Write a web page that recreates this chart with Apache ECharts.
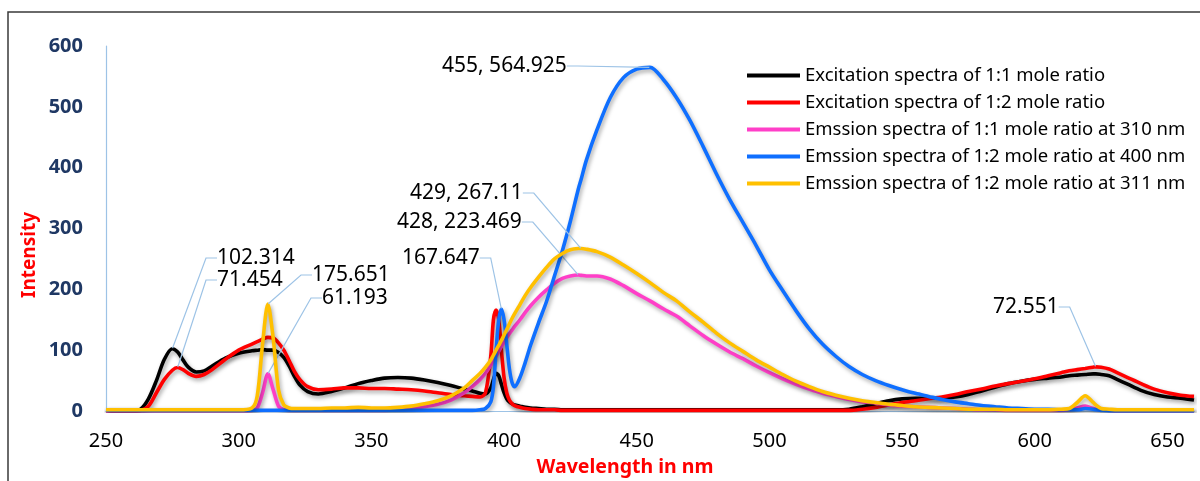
<!DOCTYPE html>
<html>
<head>
<meta charset="utf-8">
<script src="https://cdn.jsdelivr.net/npm/echarts@6/dist/echarts.min.js"></script>
<style>
  html, body { margin: 0; padding: 0; background: #fff; }
  #chart { width: 1200px; height: 481px; }
</style>
</head>
<body>
<div id="chart"></div>
<script>
// Wavelength grid (nm) shared by every spectrum
const wavelength = [250,255,260,263,266,269,272,275,277,279,281,284,287,290,295,300,305,307,309,311,313,315,317,319,321,323,326,330,335,340,345,350,355,360,365,370,375,380,385,388,391,393,395,396,397,398,399,400,401,402,403,404,406,408,410,413,416,419,422,425,428,429,431,435,440,445,450,455,460,465,470,475,480,485,490,495,500,505,510,515,520,525,530,535,540,545,550,555,560,565,570,575,580,585,590,595,600,605,610,613,616,619,622,623,625,628,631,635,640,645,650,655,660];

// Excitation spectrum, 1:1 mole ratio
const excitation11 = [1,1,1,3,20,50,85,102.314,97,84,72,64,66,74,87,95,99,100,101,100,100,96,88,74,57,43,32,28,32,38,45,50,54,55,54,51,47,42,36,33,29,28,38,52,62,58,44,30,20,15,12,10,8,6,5,4,3,3,2,2,2,2,2,2,2,2,2,2,2,2,2,2,2,2,2,2,2,2,2,2,2,2,3,7,12,17,20,21,21,21,23,27,33,39,45,49,52,54,56,58,59,60,61,61,60,58,52,44,34,27,23,21,18];

// Excitation spectrum, 1:2 mole ratio
const excitation12 = [0,0,0,1,8,30,52,67,71.454,68,62,57,60,68,85,100,110,114,118,121,120,112,100,83,65,52,40,35,36,38,38,37,37,36,35,33,30,27,25,24,23,30,90,150,166,150,100,55,30,18,12,9,6,4,3,2,2,2,1,1,1,1,1,1,1,1,1,1,1,1,1,1,1,1,1,1,1,1,1,1,1,1,1,3,6,10,14,17,20,23,27,32,36,41,45,49,53,58,63,66,68,70,72,72.551,72,69,63,55,45,36,30,26,24];

// Emission spectrum, 1:1 mole ratio, excited at 310 nm
const emission11_310 = [0,0,0,0,0,0,0,0,0,0,0,0,0,0,0,0,1,5,30,61.193,35,8,2,1,1,1,1,1,1,1,1,1,1,2,4,7,11,18,30,40,52,62,75,82,90,98,106,113,120,127,133,139,150,162,173,187,199,210,218,222,223.469,223,222,222,217,206,193,181,168,156,140,124,110,97,86,74,63,53,44,36,29,24,19,15,13,10,8,7,6,5,4,3,2,2,1,1,1,1,1,2,5,8,4,3,2,1,0,0,0,0,0,0,0];

// Emission spectrum, 1:2 mole ratio, excited at 400 nm
const emission12_400 = [1,1,1,1,1,1,1,1,1,1,1,1,1,1,1,1,1,1,1,1,1,1,1,1,1,1,1,1,1,1,1,1,1,1,1,1,1,1,1,1,2,4,15,40,100,150,167.647,150,110,70,47,40,55,80,108,145,180,222,264,312,365,380,412,462,515,548,562,564.925,545,515,478,435,390,348,310,272,232,198,165,135,110,90,73,60,50,42,35,29,24,19,15,12,9,7,5,4,3,3,2,2,2,4,3,2,1,0,0,0,0,0,0,0,0];

// Emission spectrum, 1:2 mole ratio, excited at 311 nm
const emission12_311 = [2,2,2,2,2,2,2,2,2,2,2,2,2,2,2,2,5,25,110,175.651,120,35,10,5,4,4,4,4,5,5,6,5,5,6,8,12,17,25,38,50,62,72,84,92,100,108,116,125,134,143,152,160,175,190,203,220,236,250,259,265,267,267.11,266,262,253,240,226,211,195,181,163,146,128,112,98,84,72,60,49,40,32,26,21,17,14,11,9,7,6,5,4,3,3,3,2,2,2,2,3,4,14,25,14,10,4,3,2,2,2,2,2,2,2];

const seriesNames = [
  'Excitation spectra of 1:1 mole ratio',
  'Excitation spectra of 1:2 mole ratio',
  'Emssion spectra of 1:1 mole ratio at 310 nm',
  'Emssion spectra of 1:2 mole ratio at 400 nm',
  'Emssion spectra of 1:2 mole ratio at 311 nm'
];
const seriesValues = [excitation11, excitation12, emission11_310, emission12_400, emission12_311];
const seriesColors = ['#000000', '#FF0000', '#FF3FC8', '#0F6FFF', '#FFC000'];

const xTicks = [250, 300, 350, 400, 450, 500, 550, 600, 650];
const yTicks = [0, 100, 200, 300, 400, 500, 600];

// Peak callouts: series index, wavelength, text style ('y' or 'xy')
const callouts = [
  { s: 0, w: 275, kind: 'y' },
  { s: 1, w: 277, kind: 'y' },
  { s: 4, w: 311, kind: 'y' },
  { s: 2, w: 311, kind: 'y' },
  { s: 3, w: 399, kind: 'y' },
  { s: 4, w: 429, kind: 'xy' },
  { s: 2, w: 428, kind: 'xy' },
  { s: 3, w: 455, kind: 'xy' },
  { s: 1, w: 623, kind: 'y' }
];
// Where each callout text sits (left edge, vertical middle) in pixels
const calloutPlace = {
  '0-275': [217, 258],
  '1-277': [217, 280],
  '4-311': [312, 275],
  '2-311': [322, 298],
  '3-399': [402, 258],
  '4-429': [410, 193],
  '2-428': [397, 222],
  '3-455': [442, 66],
  '1-623': [993, 307]
};

const labelFont = 'Noto Sans';

function buildData(si) {
  const vals = seriesValues[si];
  return wavelength.map((w, i) => {
    const c = callouts.find(o => o.s === si && o.w === w);
    if (!c) return [w, vals[i]];
    const txt = c.kind === 'xy' ? (w + ', ' + vals[i]) : String(vals[i]);
    return {
      value: [w, vals[i]],
      symbol: 'circle',
      symbolSize: 1,
      itemStyle: { color: seriesColors[si] },
      label: {
        show: true,
        formatter: txt,
        color: '#000',
        fontSize: 21,
        fontFamily: labelFont
      },
      labelLine: {
        show: true,
        length2: 11,
        lineStyle: { color: '#9DC3E6', width: 1.2 }
      }
    };
  });
}

const series = seriesNames.map((name, si) => ({
  name: name,
  type: 'line',
  data: buildData(si),
  symbol: 'none',
  showSymbol: true,
  showAllSymbol: true,
  smooth: 0.3,
  z: 2 + si,
  lineStyle: {
    color: seriesColors[si],
    width: 3.6,
    shadowColor: 'rgba(0,0,0,0.35)',
    shadowBlur: 4,
    shadowOffsetX: 1.5,
    shadowOffsetY: 2.5
  },
  itemStyle: { color: seriesColors[si] },
  emphasis: { disabled: true },
  labelLayout: function (p) {
    const w = wavelength[p.dataIndex];
    const pos = calloutPlace[p.seriesIndex + '-' + w];
    if (!pos) return {};
    return { x: pos[0], y: pos[1], align: 'left', verticalAlign: 'middle' };
  }
}));

const chart = echarts.init(document.getElementById('chart'), null, { renderer: 'canvas' });
chart.setOption({
  animation: false,
  backgroundColor: '#ffffff',
  grid: { left: 106, right: 6, top: 46, bottom: 70 },
  legend: {
    data: seriesNames,
    orient: 'vertical',
    left: 747,
    top: 66,
    padding: 0,
    icon: 'rect',
    itemWidth: 53,
    itemHeight: 4,
    itemGap: 8,
    selectedMode: false,
    textStyle: { color: '#000', fontSize: 18.5, fontFamily: labelFont }
  },
  xAxis: {
    type: 'value',
    min: xTicks[0],
    max: 660,
    interval: xTicks[1] - xTicks[0],
    axisLine: { show: true, lineStyle: { color: '#9DC3E6', width: 1.2 } },
    axisTick: { show: false },
    splitLine: { show: false },
    axisLabel: {
      showMaxLabel: false,
      color: '#000',
      fontSize: 20,
      fontFamily: labelFont,
      margin: 20
    }
  },
  yAxis: {
    type: 'value',
    min: yTicks[0],
    max: yTicks[yTicks.length - 1],
    interval: yTicks[1] - yTicks[0],
    axisLine: { show: true, lineStyle: { color: '#9DC3E6', width: 1.2 } },
    axisTick: { show: false },
    splitLine: { show: false },
    axisLabel: {
      color: '#1F3864',
      fontSize: 20,
      fontWeight: 'bold',
      fontFamily: labelFont,
      margin: 23
    }
  },
  graphic: [
    {
      type: 'rect',
      shape: { x: 8, y: 12, width: 1300, height: 600 },
      style: { fill: 'none', stroke: '#3a3a3a', lineWidth: 1.5 },
      silent: true,
      z: 100
    },
    {
      type: 'text',
      x: 625,
      y: 467,
      style: {
        text: 'Wavelength in nm',
        fill: '#FF0000',
        font: 'bold 19.5px "Noto Sans"',
        align: 'center',
        verticalAlign: 'middle'
      }
    },
    {
      type: 'text',
      x: 30,
      y: 255,
      rotation: Math.PI / 2,
      style: {
        text: 'Intensity',
        fill: '#FF0000',
        font: 'bold 19px "Noto Sans"',
        align: 'center',
        verticalAlign: 'middle'
      }
    }
  ],
  series: series
});
</script>
</body>
</html>
